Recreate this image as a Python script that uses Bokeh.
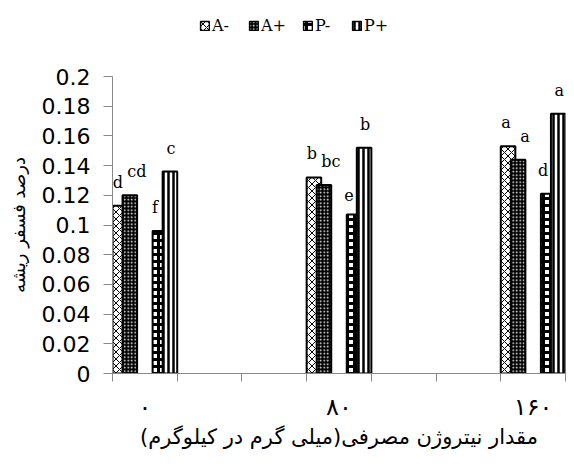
import numpy as np
from bokeh.plotting import figure
from bokeh.layouts import column
from bokeh.models import FixedTicker, Range1d, Legend, LegendItem, ColumnDataSource
from bokeh.core.properties import value
from bokeh.embed import file_html
from bokeh.resources import INLINE

# ---- data ----
categories = ["۰", "۸۰", "۱۶۰"]
series_names = ["A-", "A+", "P-", "P+"]
a_minus = [0.113, 0.132, 0.153]
a_plus = [0.120, 0.127, 0.144]
p_minus = [0.096, 0.107, 0.121]
p_plus = [0.136, 0.152, 0.175]
letters_a_minus = ["d", "b", "a"]
letters_a_plus = ["cd", "bc", "a"]
letters_p_minus = ["f", "e", "d"]
letters_p_plus = ["c", "b", "a"]
y_ticks = [0, 0.02, 0.04, 0.06, 0.08, 0.1, 0.12, 0.14, 0.16, 0.18, 0.2]
y_tick_labels = ["0", "0.02", "0.04", "0.06", "0.08", "0.1", "0.12", "0.14", "0.16", "0.18", "0.2"]
x_title = "مقدار نیتروژن مصرفی(میلی گرم در کیلوگرم)"
y_title = "درصد فسفر ریشه"

values = [a_minus, a_plus, p_minus, p_plus]
letters = [letters_a_minus, letters_a_plus, letters_p_minus, letters_p_plus]

# ---- layout ----
W = 566
LEG_H = 40
n_slots = 7
slots = np.arange(len(categories)) * 3
bar_w = 0.225
offsets = [0.1125, 0.2675, 0.7325, 0.8875]
label_dx = [-2, 7, -5, 1]

styles = [
    dict(fill_color="white", hatch_pattern="x", hatch_color="black", hatch_scale=7, hatch_weight=1),
    dict(fill_color="black", hatch_pattern=".", hatch_color="white", hatch_scale=3.5, hatch_weight=1),
    dict(fill_color="white", hatch_pattern="+", hatch_color="black", hatch_scale=7, hatch_weight=3),
    dict(fill_color="white", hatch_pattern="|", hatch_color="black", hatch_scale=5, hatch_weight=2.5),
]

p = figure(width=W, height=455 - LEG_H, output_backend="svg", toolbar_location=None,
           x_range=Range1d(0, n_slots), y_range=Range1d(0, 0.2),
           min_border_left=112, min_border_right=1, min_border_top=36, min_border_bottom=82)
p.outline_line_color = None
p.xgrid.grid_line_color = None
p.ygrid.grid_line_color = None
p.background_fill_color = "white"
p.border_fill_color = "white"

sources = []
for i in range(4):
    xs = slots + offsets[i]
    src = ColumnDataSource(dict(x=xs, top=values[i], lab=letters[i]))
    sources.append(src)
    p.vbar(x="x", top="top", width=bar_w, bottom=0, source=src,
           line_color="black", line_width=2, **styles[i])

for i in range(4):
    p.text(x="x", y="top", text="lab", source=sources[i], x_offset=label_dx[i], y_offset=-14,
           text_align="center", text_baseline="bottom", text_color="black",
           text_font=value("DejaVu Serif"), text_font_size="16px")

# y axis
yax = p.yaxis[0]
yax.ticker = FixedTicker(ticks=y_ticks, minor_ticks=[])
yax.major_label_overrides = {t: l for t, l in zip(y_ticks, y_tick_labels)}
yax.axis_line_color = "#888888"
yax.major_tick_line_color = "#888888"
yax.major_tick_out = 9
yax.major_tick_in = 0
yax.major_label_standoff = 13
yax.major_label_text_font = "DejaVu Sans"
yax.major_label_text_font_size = "22px"
yax.major_label_text_color = "black"
yax.axis_label = y_title
yax.axis_label_text_font = "DejaVu Sans"
yax.axis_label_text_font_size = "18px"
yax.axis_label_text_font_style = "normal"
yax.axis_label_text_color = "black"
yax.axis_label_standoff = 10

# x axis
xax = p.xaxis[0]
xax.ticker = FixedTicker(ticks=list(slots + 0.5), minor_ticks=list(range(n_slots + 1)))
xax.major_label_overrides = {float(s + 0.5): c for s, c in zip(slots, categories)}
xax.axis_line_color = "#888888"
xax.major_tick_line_color = None
xax.major_tick_out = 0
xax.major_tick_in = 0
xax.minor_tick_line_color = "#888888"
xax.minor_tick_out = 8
xax.minor_tick_in = 0
xax.major_label_standoff = 11
xax.major_label_text_font = "DejaVu Sans"
xax.major_label_text_font_size = "24px"
xax.major_label_text_color = "black"
xax.axis_label = x_title
xax.axis_label_text_font = "DejaVu Sans"
xax.axis_label_text_font_size = "21px"
xax.axis_label_text_font_style = "normal"
xax.axis_label_text_color = "black"
xax.axis_label_standoff = 1

# ---- legend strip (hidden proxy bars, only their legend swatches show) ----
lf = figure(width=W, height=LEG_H, output_backend="svg", toolbar_location=None,
            x_range=Range1d(0, n_slots), y_range=Range1d(0, 0.2),
            min_border_left=112, min_border_right=1, min_border_top=0, min_border_bottom=0,
            x_axis_type=None, y_axis_type=None)
lf.outline_line_color = None
lf.xgrid.grid_line_color = None
lf.ygrid.grid_line_color = None
leg_renderers = []
for i in range(4):
    r = lf.vbar(x="x", top="top", width=bar_w, bottom=0, source=sources[i],
                line_color="black", line_width=1.5, **styles[i])
    r.visible = False
    leg_renderers.append(r)
legend = Legend(items=[LegendItem(label=n, renderers=[r]) for n, r in zip(series_names, leg_renderers)],
                orientation="horizontal", location=(87, 5),
                glyph_width=11, glyph_height=11, label_standoff=2, spacing=16,
                padding=0, margin=0, border_line_color=None, background_fill_alpha=0,
                inactive_fill_alpha=0,
                label_text_font="DejaVu Serif", label_text_font_size="16px",
                label_text_color="black", label_height=14)
lf.add_layout(legend, "center")

layout = column(lf, p, spacing=0)
open("out.html", "w").write(file_html(layout, INLINE))
